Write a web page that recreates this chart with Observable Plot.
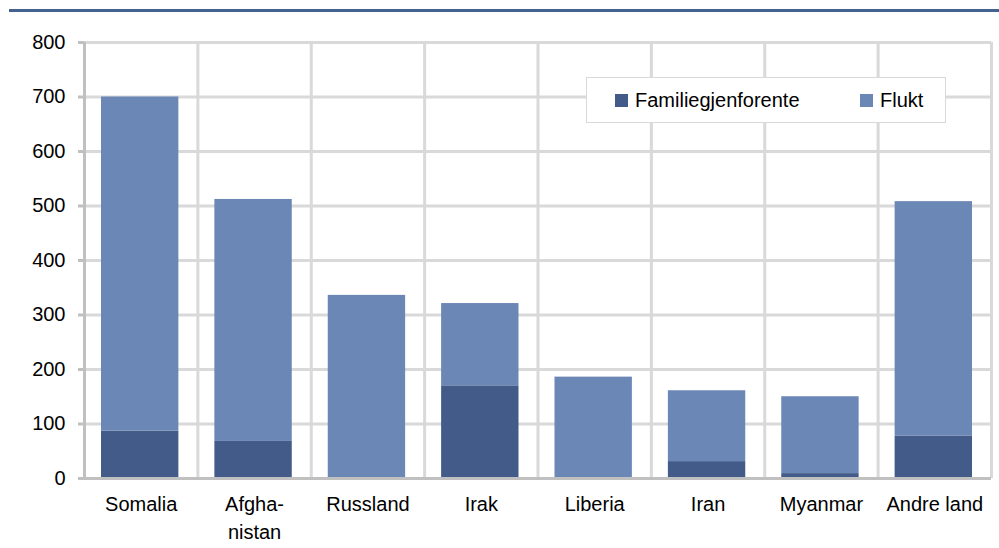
<!DOCTYPE html>
<html>
<head>
<meta charset="utf-8">
<script src="https://cdn.jsdelivr.net/npm/d3@7"></script>
<script src="https://cdn.jsdelivr.net/npm/@observablehq/plot@0.6"></script>
<style>
  html, body { margin: 0; padding: 0; background: #fff; }
  #wrap { position: relative; width: 999px; height: 548px; overflow: hidden; font-family: "Liberation Sans", Arial, sans-serif; }
  #topline { position: absolute; left: 9px; top: 9px; width: 990px; height: 3px; background: #44618f; }
  #legend { position: absolute; left: 586px; top: 77px; width: 358px; height: 44px; border: 1.5px solid #d9d9d9; background: #fff; font-size: 20px; color: #000; }
  .li { position: absolute; top: 0; height: 44px; display: flex; align-items: center; }
  .sw { display: inline-block; width: 13px; height: 13px; margin-right: 7px; }
  #chart { position: absolute; left: 0; top: 0; }
</style>
</head>
<body>
<div id="wrap">
  <div id="chart"></div>
  <div id="topline"></div>
  <div id="legend"></div>
</div>
<script>
const categories = ["Somalia", "Afghanistan", "Russland", "Irak", "Liberia", "Iran", "Myanmar", "Andre land"];
const categoryLabels = ["Somalia", "Afgha-\nnistan", "Russland", "Irak", "Liberia", "Iran", "Myanmar", "Andre land"];
const familiegjenforente = [87, 68, 0, 170, 0, 31, 9, 78];
const flukt = [613, 444, 336, 151, 186, 130, 141, 430];
const seriesNames = ["Familiegjenforente", "Flukt"];
const seriesColors = ["#425b88", "#6b87b5"];
const yTicks = [0, 100, 200, 300, 400, 500, 600, 700, 800];

const data = [];
categories.forEach((c, i) => {
  data.push({ land: c, serie: seriesNames[0], verdi: familiegjenforente[i] });
  data.push({ land: c, serie: seriesNames[1], verdi: flukt[i] });
});

const W = 999, H = 548;
const mL = 84, mR = 8, mT = 42, mB = 70;
const halfStep = (W - mL - mR) / categories.length / 2;
const labelOf = new Map(categories.map((c, i) => [c, categoryLabels[i]]));

const plot = Plot.plot({
  width: W,
  height: H,
  marginLeft: mL,
  marginRight: mR,
  marginTop: mT,
  marginBottom: mB,
  style: { fontFamily: "'Liberation Sans', Arial, sans-serif", fontSize: "20px", color: "#000", background: "#fff" },
  x: { domain: categories, padding: 0, round: false },
  y: { domain: [0, 800] },
  color: { domain: seriesNames, range: seriesColors },
  marks: [
    Plot.ruleY(yTicks.filter(d => d > 0), { stroke: "#d9d9d9", strokeWidth: 3 }),
    Plot.ruleX(categories, { x: d => d, dx: -halfStep, stroke: "#d9d9d9", strokeWidth: 3 }),
    Plot.ruleX([categories[categories.length - 1]], { x: d => d, dx: halfStep, stroke: "#d9d9d9", strokeWidth: 3 }),
    Plot.barY(data, Plot.stackY({ x: "land", y: "verdi", fill: "serie", insetLeft: 17, insetRight: 19, order: seriesNames })),
    Plot.ruleX([categories[0]], { x: d => d, dx: -halfStep, stroke: "#c0c0c0", strokeWidth: 3 }),
    Plot.ruleY([0], { stroke: "#c0c0c0", strokeWidth: 3 }),
    Plot.axisY({ ticks: yTicks, tickSize: 6, tickPadding: 13, stroke: "#c0c0c0", strokeWidth: 3, label: null, fill: "#000", fontSize: 20 }),
    Plot.axisX({ tickSize: 0, tickPadding: 12, label: null, tickFormat: d => labelOf.get(d), lineHeight: 1.42, fill: "#000", fontSize: 20 })
  ]
});
document.getElementById("chart").appendChild(plot);

const legend = document.getElementById("legend");
const positions = [28, 273];
seriesNames.forEach((s, i) => {
  const item = document.createElement("div");
  item.className = "li";
  item.style.left = positions[i] + "px";
  const sw = document.createElement("span");
  sw.className = "sw";
  sw.style.background = seriesColors[i];
  const t = document.createElement("span");
  t.textContent = s;
  item.appendChild(sw);
  item.appendChild(t);
  legend.appendChild(item);
});
</script>
</body>
</html>
